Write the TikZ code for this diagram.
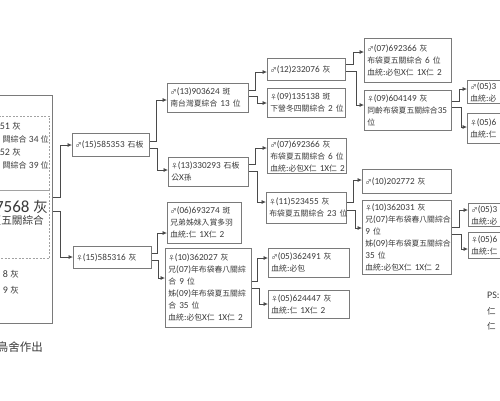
\documentclass[tikz,border=0pt]{standalone}
\usepackage{fontspec}
\setmainfont{Carlito}
\newfontfamily\cjk[Scale=0.85]{Noto Sans CJK TC}
\usetikzlibrary{arrows.meta}
\definecolor{txt}{HTML}{3A3A3A}
\definecolor{bdr}{HTML}{7A7A7A}
\definecolor{ln}{HTML}{4A4A4A}
\newcommand\zh[1]{{\cjk #1}}
\newcommand\gm{{\cjk\fontsize{7.5}{7.5}\selectfont ♂}}
\newcommand\gf{{\cjk\fontsize{7.5}{7.5}\selectfont ♀}}
\tikzset{
  pbox/.style={draw=bdr, line width=0.8pt, anchor=north west, align=left,
    inner xsep=3pt, inner ysep=2pt, font=\fontsize{9.2}{12}\selectfont, text=txt},
  dbox/.style={draw=bdr!70, line width=0.6pt, dash pattern=on 2pt off 1.5pt, anchor=north east},
  conn/.style={draw=ln, line width=0.7pt, -{Latex[length=4.5pt,width=4pt]}},
  lt/.style={anchor=base east, inner sep=0pt, text=txt},
}
\begin{document}
\begin{tikzpicture}[x=1pt,y=-1pt]
\useasboundingbox (0,0) rectangle (500,400);
\clip (0,0) rectangle (500,400);
% root box
\node[draw=bdr, line width=0.8pt, anchor=north east, minimum width=200pt, minimum height=228pt, inner sep=0pt] (root) at (53,95) {};
\node[dbox, minimum width=80pt, minimum height=74pt] (par) at (50,116) {};
\node[dbox, minimum width=80pt, minimum height=68pt] (self) at (50,190) {};
\node[lt, font=\fontsize{10}{10}\selectfont] (t1) at (21,129) {51 \zh{灰}};
\node[lt, font=\fontsize{9.5}{10}\selectfont] (t2) at (49,142) {\zh{闗綜合}~34~\zh{位}};
\node[lt, font=\fontsize{10}{10}\selectfont] (t3) at (21,155) {52 \zh{灰}};
\node[lt, font=\fontsize{9.5}{10}\selectfont] (t4) at (49,168) {\zh{闗綜合}~39~\zh{位}};
\node[lt, font=\fontsize{17}{17}\selectfont] (t5) at (48,212) {7568 \zh{灰}};
\node[lt, font=\fontsize{12.5}{12.5}\selectfont] (t6) at (44,224) {\zh{夏五關綜合}};
\node[lt, font=\fontsize{10}{10}\selectfont] (t7) at (19,277) {8 \zh{灰}};
\node[lt, font=\fontsize{10}{10}\selectfont] (t8) at (19,293) {9 \zh{灰}};
\node[lt, font=\fontsize{13.5}{13.5}\selectfont] (t9) at (43,351) {\zh{鳥舍作出}};
\node[anchor=base west, inner sep=0pt, text=txt, font=\fontsize{10}{10}\selectfont] (ps) at (487,298) {PS:};
\node[anchor=base west, inner sep=0pt, text=txt, font=\fontsize{10}{10}\selectfont] (ps1) at (487,314) {\zh{仁}};
\node[anchor=base west, inner sep=0pt, text=txt, font=\fontsize{10}{10}\selectfont] (ps2) at (487,329) {\zh{仁}};
% column 1
\node[pbox, text width=71.2pt, minimum height=23pt] (A) at (72,133) {\gm(15)585353~\zh{石板}};
\node[pbox, text width=72.2pt, minimum height=22pt] (B) at (73,246) {\gf(15)585316~\zh{灰}};
% column 2
\node[pbox, text width=75.2pt, minimum height=29pt] (C) at (167,83) {\gm(13)903624~\zh{斑}\\\zh{南台灣夏綜合}~13~\zh{位}};
\node[pbox, text width=74.2pt, minimum height=29pt] (D) at (168,157) {\gf(13)330293~\zh{石板}\\\zh{公}X\zh{孫}};
\node[pbox, text width=68.2pt, minimum height=41pt] (E) at (167,202) {\gm(06)693274~\zh{斑}\\\zh{兄弟姊妹入賞多羽}\\\zh{血統}:\zh{仁}~1X\zh{仁}~2};
\node[pbox, text width=80.2pt, minimum height=79pt] (F) at (165,248) {\gf(10)362027~\zh{灰}\\\zh{兄}(07)\zh{年布袋春八關綜}\\\zh{合}~9~\zh{位}\\\zh{姊}(09)\zh{年布袋夏五關綜}\\\zh{合}~35~\zh{位}\\\zh{血統}:\zh{必包}X\zh{仁}~1X\zh{仁}~2};
% column 3
\node[pbox, text width=72.2pt, minimum height=22pt] (G) at (267,58) {\gm(12)232076~\zh{灰}};
\node[pbox, text width=72.2pt, minimum height=29pt] (H) at (267,88) {\gf(09)135138~\zh{斑}\\\zh{下營冬四關綜合}~2~\zh{位}};
\node[pbox, text width=73.2pt, minimum height=35pt] (I) at (267,138) {\gm(07)692366~\zh{灰}\\\zh{布袋夏五關綜合}~6~\zh{位}\\\zh{血統}:\zh{必包}X\zh{仁}~1X\zh{仁}~2};
\node[pbox, text width=74.2pt, minimum height=31pt] (J) at (266,192) {\gf(11)523455~\zh{灰}\\\zh{布袋夏五關綜合}~23~\zh{位}};
\node[pbox, text width=75.2pt, minimum height=29pt] (K) at (268,248) {\gm(05)362491~\zh{灰}\\\zh{血統}:\zh{必包}};
\node[pbox, text width=75.2pt, minimum height=28pt] (L) at (268,290) {\gf(05)624447~\zh{灰}\\\zh{血統}:\zh{仁}~1X\zh{仁}~2};
% column 4
\node[pbox, text width=81.2pt, minimum height=44pt] (M) at (364,38) {\gm(07)692366~\zh{灰}\\\zh{布袋夏五關綜合}~6~\zh{位}\\\zh{血統}:\zh{必包}X\zh{仁}~1X\zh{仁}~2};
\node[pbox, text width=81.2pt, minimum height=40pt] (N) at (364,90) {\gf(09)604149~\zh{灰}\\\zh{同齡布袋夏五關綜合}35\\\zh{位}};
\node[pbox, text width=83.2pt, minimum height=24pt] (Q) at (362,169) {\gm(10)202772~\zh{灰}};
\node[pbox, text width=83.2pt, minimum height=74pt] (R) at (362,200) {\gf(10)362031~\zh{灰}\\\zh{兄}(07)\zh{年布袋春八關綜合}\\9~\zh{位}\\\zh{姊}(09)\zh{年布袋夏五關綜合}\\35~\zh{位}\\\zh{血統}:\zh{必包}X\zh{仁}~1X\zh{仁}~2};
% column 5 (cut off)
\node[pbox, text width=73.2pt, minimum height=22pt] (O) at (467,80) {\gm(05)3\\\zh{血統}:\zh{必}};
\node[pbox, text width=73.2pt, minimum height=30pt] (P) at (467,113) {\gf(05)6\\\zh{血統}:\zh{仁}};
\node[pbox, text width=73.2pt, minimum height=22pt] (S) at (468,203) {\gm(05)3\\\zh{血統}:\zh{必}};
\node[pbox, text width=73.2pt, minimum height=26pt] (T) at (468,232) {\gf(05)6\\\zh{血統}:\zh{仁}};
% connectors
\draw[conn] (root.east |- 0,197) -- ++(7,0) |- (A.west |- 0,145);
\draw[conn] (root.east |- 0,211) -- ++(7,0) |- (B.west |- 0,257);
\draw[conn] (A.east |- 0,141) -- ++(6,0) |- (C.west |- 0,100);
\draw[conn] (A.east |- 0,148) -- ++(7,0) |- (D.west |- 0,170);
\draw[conn] (B.east |- 0,253) -- ++(5,0) |- (E.west |- 0,233);
\draw[conn] (B.east |- 0,260) -- ++(6,0) |- (F.west |- 0,278);
\draw[conn] (C.east |- 0,90) -- ++(6,0) |- (G.west |- 0,72);
\draw[conn] (C.east |- 0,96) -- ++(8,0) |- (H.west |- 0,103);
\draw[conn] (D.east |- 0,164) -- ++(6,0) |- (I.west |- 0,148);
\draw[conn] (D.east |- 0,171) -- ++(8,0) |- (J.west |- 0,202);
\draw[conn] (F.east |- 0,281) -- ++(5,0) |- (K.west |- 0,258);
\draw[conn] (F.east |- 0,288) -- ++(7,0) |- (L.west |- 0,304);
\draw[conn] (G.east |- 0,64) -- ++(7,0) |- (M.west |- 0,52);
\draw[conn] (G.east |- 0,71) -- ++(10,0) |- (N.west |- 0,105);
\draw[conn] (N.east |- 0,101) -- ++(7,0) |- (O.west |- 0,89);
\draw[conn] (N.east |- 0,107) -- ++(9,0) |- (P.west |- 0,127);
\draw[conn] (J.east |- 0,202) -- ++(6,0) |- (Q.west |- 0,180);
\draw[conn] (J.east |- 0,210) -- ++(8,0) |- (R.west |- 0,228);
\draw[conn] (R.east |- 0,227) -- ++(7,0) |- (S.west |- 0,210);
\draw[conn] (R.east |- 0,234) -- ++(9,0) |- (T.west |- 0,249);
\end{tikzpicture}
\end{document}
